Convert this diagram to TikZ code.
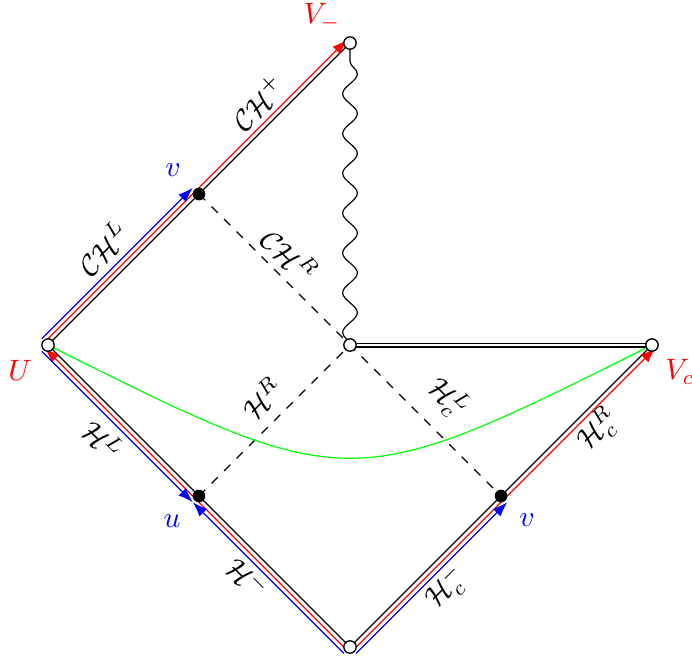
\documentclass[tikz,border=0pt]{standalone}
\usetikzlibrary{arrows.meta,decorations.pathmorphing}
\begin{document}
\begin{tikzpicture}[x=1.8cm,y=1.8cm,
  open/.style={circle,draw,fill=white,inner sep=0pt,minimum size=4.2pt,line width=0.45pt},
  dot/.style={circle,fill=black,inner sep=0pt,minimum size=4.3pt},
  redarr/.style={red,-{Latex[length=5pt,width=3.6pt]}},
  bluearr/.style={blue,-{Latex[length=5pt,width=3.6pt]}},
  lab/.style={inner sep=0pt},
  wavy/.style={decorate,decoration={snake,segment length=13.5pt,amplitude=2.5pt}},
]
\useasboundingbox (-2.318,-2.093) rectangle (2.265,2.285);
\coordinate (C) at (0,0);
\coordinate (L) at (-2,0);
\coordinate (R) at (2,0);
\coordinate (T) at (0,2);
\coordinate (B) at (0,-2);
\coordinate (P1) at (-1,1);
\coordinate (P2) at (-1,-1);
\coordinate (P3) at (1,-1);

% black frame
\draw (L) -- (T);
\draw (L) -- (B) -- (R);
\draw[wavy] (C) -- (T);
\draw[double,double distance=0.9pt] (C) -- (R);
\draw[dashed] (P1) -- (C) -- (P3);
\draw[dashed] (P2) -- (C);

% green curve
\draw[green] (L) .. controls (0,-1) and (0,-1) .. (R);

% coloured lines, upper left edge
\draw[redarr] ([shift={(-1.06pt,1.06pt)}]L) -- ([shift={(-1.06pt,1.06pt)}]T);
\draw[bluearr] ([shift={(-2.12pt,2.12pt)}]L) -- ([shift={(-2.12pt,2.12pt)}]P1);
% lower left edge
\draw[redarr] ([shift={(-1.06pt,-1.06pt)}]B) -- ([shift={(-1.06pt,-1.06pt)}]L);
\draw[bluearr] ([shift={(-2.12pt,-2.12pt)}]L) -- ([shift={(-2.12pt,-2.12pt)}]P2);
\draw[bluearr] ([shift={(-2.12pt,-2.12pt)}]B) -- ([shift={(-2.12pt,-2.12pt)}]P2);
% lower right edge
\draw[redarr] ([shift={(1.06pt,-1.06pt)}]B) -- ([shift={(1.06pt,-1.06pt)}]R);
\draw[bluearr] ([shift={(2.12pt,-2.12pt)}]B) -- ([shift={(2.12pt,-2.12pt)}]P3);

% points
\node[dot] (d1) at (P1) {};
\node[dot] (d2) at (P2) {};
\node[dot] (d3) at (P3) {};
\node[open] (oC) at (C) {};
\node[open] (oL) at (L) {};
\node[open] (oR) at (R) {};
\node[open] (oT) at (T) {};
\node[open] (oB) at (B) {};

% labels
\node[lab,rotate=45] (l1) at (-0.609,1.603) {$\mathcal{CH}^+$};
\node[lab,rotate=45] (l2) at (-1.636,0.642) {$\mathcal{CH}^L$};
\node[lab,rotate=-45] (l3) at (-0.397,0.596) {$\mathcal{CH}^R$};
\node[lab,rotate=45] (l4) at (-0.583,-0.351) {$\mathcal{H}^R$};
\node[lab,rotate=-45] (l5) at (0.649,-0.351) {$\mathcal{H}^L_c$};
\node[lab,rotate=-45] (l6) at (-1.636,-0.629) {$\mathcal{H}^L$};
\node[lab,rotate=-45] (l7) at (-0.68,-1.545) {$\mathcal{H}^-$};
\node[lab,rotate=45] (l8) at (0.642,-1.609) {$\mathcal{H}^-_c$};
\node[lab,rotate=45] (l9) at (1.642,-0.563) {$\mathcal{H}^R_c$};

\node[lab,red] (tU) at (-2.185,-0.166) {$U$};
\node[lab,red] (tVm) at (-0.185,2.172) {$V_-$};
\node[lab,red] (tVc) at (2.185,-0.179) {$V_c$};
\node[lab,blue] (tv1) at (-1.172,1.159) {$v$};
\node[lab,blue] (tu) at (-1.179,-1.166) {$u$};
\node[lab,blue] (tv2) at (1.172,-1.159) {$v$};
\end{tikzpicture}
\end{document}
